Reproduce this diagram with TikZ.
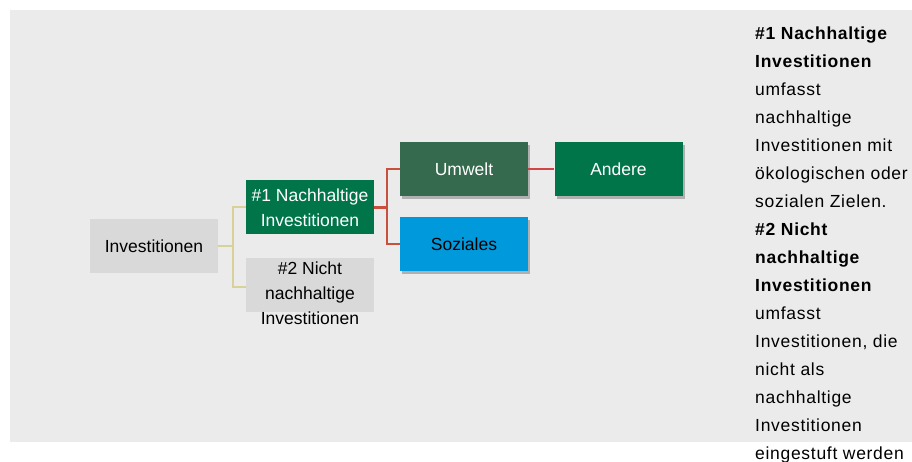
\documentclass[tikz,border=0pt]{standalone}
\usepackage{fontspec}
\setmainfont{Liberation Sans}
\newfontfamily\sidefont[LetterSpace=4]{Liberation Sans}
\usetikzlibrary{shadows,calc}
\definecolor{bgpanel}{HTML}{EBEBEB}
\definecolor{boxgray}{HTML}{D9D9D9}
\definecolor{greenA}{HTML}{00754A}
\definecolor{greenB}{HTML}{356A4F}
\definecolor{blueS}{HTML}{0099DB}
\definecolor{lineY}{HTML}{D8D29A}
\definecolor{lineR}{HTML}{C9503C}
\definecolor{lineR2}{HTML}{D04545}
\tikzset{
  box/.style={draw=none, minimum width=128pt, minimum height=54pt, inner sep=0pt,
    align=center, font=\fontsize{17.5}{24.5}\selectfont},
  shbox/.style={box, drop shadow={shadow xshift=2pt, shadow yshift=-3pt, opacity=0.25, fill=black}},
  conY/.style={draw=lineY, line width=2pt},
  conR/.style={draw=lineR, line width=2.5pt},
  conR2/.style={draw=lineR2, line width=2.5pt},
}
\begin{document}
\begin{tikzpicture}[x=1pt,y=-1pt]
\useasboundingbox (0,0) rectangle (912,462);
\fill[bgpanel] (10,10) rectangle (912,442);

\node[box, fill=boxgray] (inv) at (154,246) {Investitionen};
\node[box, fill=greenA, text=white] (n1) at (310,207.5) {\#1 Nachhaltige\\Investitionen};
\node[box, fill=boxgray] (n2) at (310,284.5) {};
\node[align=center, inner sep=0pt, font=\fontsize{17.5}{25}\selectfont] (n2t) at (310,293) {\#2 Nicht\\nachhaltige\\Investitionen};
\node[shbox, fill=greenB, text=white] (umw) at (464,169) {Umwelt};
\node[shbox, fill=greenA, text=white] (and) at (618.5,169) {Andere};
\node[shbox, fill=blueS, text=black] (soz) at (464,244) {Soziales};

\coordinate (jy) at ($(inv.east)+(15,0)$);
\draw[conY] (inv.east) -- (jy) |- (n1.west);
\draw[conY] (jy) |- ([yshift=-2.5pt]n2.west);
\coordinate (jr) at ($(n1.east)+(13,0)$);
\draw[conR] (n1.east) -- (jr) |- (umw.west);
\draw[conR] (jr) |- (soz.west);
\draw[conR2] (umw.east) -- (and.west);

\node[anchor=north west, align=left, inner sep=0pt, font=\sidefont\fontsize{17.5}{28}\selectfont] (txt) at (755,26.5)
{\textbf{\#1 Nachhaltige}\\
\textbf{Investitionen}\\
umfasst\\
nachhaltige\\
Investitionen mit\\
ökologischen oder\\
sozialen Zielen.\\
\textbf{\#2 Nicht}\\
\textbf{nachhaltige}\\
\textbf{Investitionen}\\
umfasst\\
Investitionen, die\\
nicht als\\
nachhaltige\\
Investitionen\\
eingestuft werden};
\end{tikzpicture}
\end{document}
